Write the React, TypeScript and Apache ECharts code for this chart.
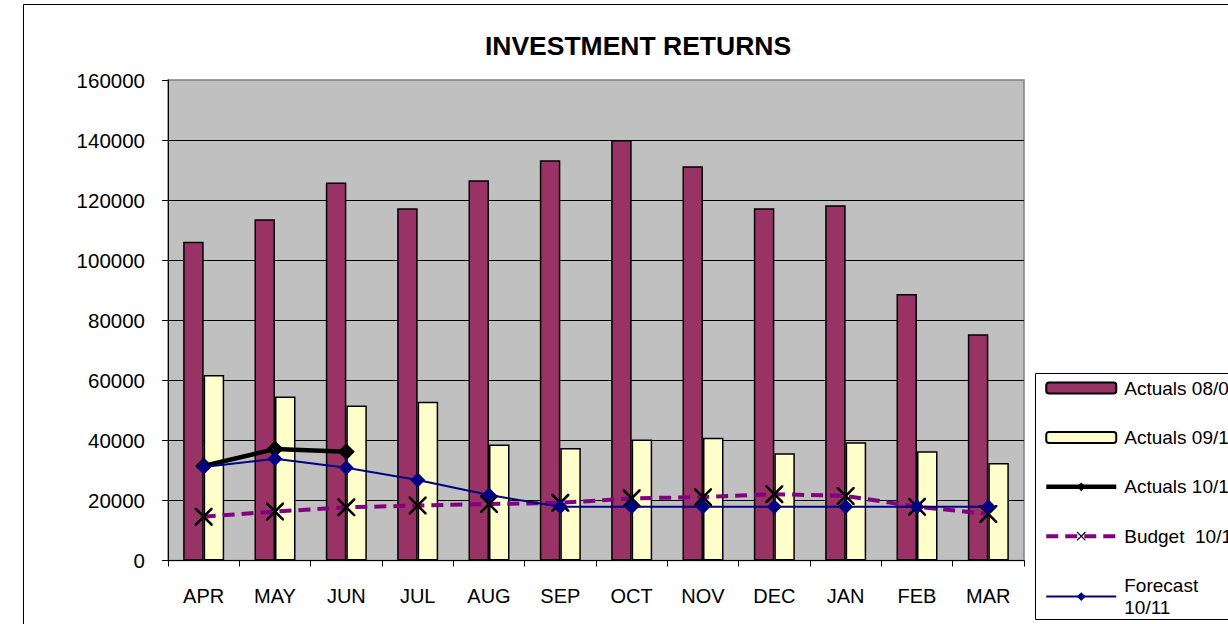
import React, { useEffect, useRef } from "react";
import * as echarts from "echarts";

const categories = ["APR", "MAY", "JUN", "JUL", "AUG", "SEP", "OCT", "NOV", "DEC", "JAN", "FEB", "MAR"];
const actuals0809 = [106100, 113600, 125900, 117300, 126600, 133300, 140000, 131300, 117300, 118300, 88700, 75300];
const actuals0910 = [61800, 54600, 51600, 52900, 38600, 37500, 40300, 40900, 35700, 39400, 36400, 32500];
const actuals1011 = [31500, 37100, 36200, null, null, null, null, null, null, null, null, null];
const budget1011 = [14600, 16300, 17700, 18300, 18800, 19200, 20700, 21100, 22100, 21500, 17900, 15500];
const forecast1011 = [31100, 33900, 30900, 26800, 21800, 17900, 17900, 17900, 17900, 17900, 17900, 17900];
const yTicks = { min: 0, max: 160000, interval: 20000 };

const FONT = "'Liberation Sans', Arial, sans-serif";
const X_SYMBOL = "path://M0,0L1,0L10,9L10,10L9,10L0,1Z M9,0L10,0L10,1L1,10L0,10L0,9Z";

const actualsLine = { color: "#000", width: 4.5 };
const budgetLine = { color: "#800080", width: 4, type: [12, 7] };
const forecastLine = { color: "#000080", width: 2 };

export default function App() {
  const ref = useRef<HTMLDivElement>(null);
  useEffect(() => {
    if (!ref.current) return;
    const chart = echarts.init(ref.current, null, { renderer: "svg" });
    chart.setOption({
      animation: false,
      backgroundColor: "#ffffff",
      textStyle: { fontFamily: FONT },
      title: {
        text: "INVESTMENT RETURNS",
        left: 638,
        top: 32,
        padding: 0,
        textAlign: "center",
        textStyle: { fontFamily: FONT, fontSize: 26.5, fontWeight: "bold", color: "#000" },
      },
      graphic: [
        {
          type: "rect",
          shape: { x: 23.5, y: 4.5, width: 1400, height: 800 },
          style: { fill: "none", stroke: "#000", lineWidth: 1 },
          silent: true,
          z: -10,
        },
        {
          type: "rect",
          shape: { x: 1035.5, y: 373.5, width: 300, height: 246 },
          style: { fill: "#fff", stroke: "#000", lineWidth: 1 },
          silent: true,
          z: 0,
        },
      ],
      legend: {
        orient: "vertical",
        left: 1044,
        top: 377,
        width: 300,
        height: 400,
        padding: 0,
        itemWidth: 70,
        itemHeight: 11,
        itemGap: 27.4,
        textStyle: { fontFamily: FONT, fontSize: 19, color: "#000", lineHeight: 22, padding: [0, 0, 0, 3] },
        formatter: (name: string) => (name === "Forecast 10/11" ? "Forecast\n10/11" : name),
        data: [
          { name: "Actuals 08/09" },
          { name: "Actuals 09/10" },
          { name: "Actuals 10/11", lineStyle: actualsLine },
          { name: "Budget  10/11", lineStyle: budgetLine },
          { name: "Forecast 10/11", lineStyle: forecastLine },
        ],
        z: 5,
      },
      grid: {
        left: 168,
        top: 80,
        width: 856,
        height: 480.5,
        show: true,
        backgroundColor: "#C0C0C0",
        borderColor: "#808080",
        borderWidth: 1.5,
      },
      xAxis: {
        type: "category",
        data: categories,
        boundaryGap: true,
        axisLine: { show: true, lineStyle: { color: "#000", width: 1 } },
        axisTick: { show: true, interval: 0, length: 6, lineStyle: { color: "#000" } },
        axisLabel: { fontFamily: FONT, fontSize: 20, color: "#000", margin: 25, interval: 0 },
        splitLine: { show: false },
      },
      yAxis: {
        type: "value",
        min: yTicks.min,
        max: yTicks.max,
        interval: yTicks.interval,
        axisLine: { show: true, lineStyle: { color: "#000", width: 1 } },
        axisTick: { show: true, length: 6, lineStyle: { color: "#000" } },
        axisLabel: {
          fontFamily: FONT,
          fontSize: 20.5,
          color: "#000",
          margin: 23,
          formatter: (v: number) => String(v),
        },
        splitLine: { show: true, showMaxLine: false, showMinLine: false, lineStyle: { color: "#000", width: 1 } },
      },
      series: [
        {
          name: "Actuals 08/09",
          type: "bar",
          data: actuals0809,
          barWidth: 20.5,
          barGap: "0%",
          itemStyle: { color: "#993366", borderColor: "#000", borderWidth: 1.5 },
          z: 2,
        },
        {
          name: "Actuals 09/10",
          type: "bar",
          data: actuals0910,
          barWidth: 20.5,
          barGap: "0%",
          itemStyle: { color: "#FFFFCC", borderColor: "#000", borderWidth: 1.5 },
          z: 2,
        },
        {
          name: "Actuals 10/11",
          type: "line",
          data: actuals1011,
          symbol: "diamond",
          symbolSize: 17,
          connectNulls: false,
          lineStyle: actualsLine,
          itemStyle: { color: "#000" },
          z: 4,
        },
        {
          name: "Budget  10/11",
          type: "line",
          data: budget1011,
          symbol: X_SYMBOL,
          symbolSize: 18,
          lineStyle: budgetLine,
          itemStyle: { color: "#000" },
          z: 5,
        },
        {
          name: "Forecast 10/11",
          type: "line",
          data: forecast1011,
          symbol: "diamond",
          symbolSize: 15,
          lineStyle: forecastLine,
          itemStyle: { color: "#000080" },
          z: 6,
        },
      ],
    });
    return () => chart.dispose();
  }, []);
  return (
    <div
      ref={ref}
      style={{ position: "fixed", left: 0, top: 0, width: 1228, height: 624, overflow: "hidden" }}
    />
  );
}
